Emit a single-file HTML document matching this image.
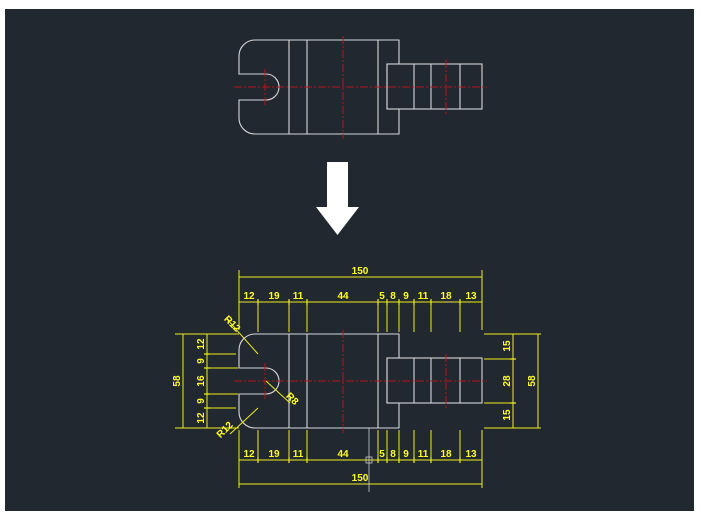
<!DOCTYPE html>
<html><head><style>
html,body{margin:0;padding:0;background:#fff;}
svg{display:block;}
text{font-family:"Liberation Sans",sans-serif;font-size:10px;font-weight:bold;fill:#ffff20;}
</style></head><body>
<svg width="712" height="522" viewBox="0 0 712 522" xmlns="http://www.w3.org/2000/svg">
<rect x="0" y="0" width="712" height="522" fill="#fff"/>
<rect x="5" y="9" width="689" height="502" fill="#212830"/>
<defs>
<g id="part">
<g fill="none" stroke="#d8d8d8" stroke-width="1.1">
<path d="M399,0 H255 A16,16 0 0 0 239,16 V34 H266 A13,13 0 0 1 266,60 H239 V78 A16,16 0 0 0 255,94 H399 V69 H387 V24 H399 Z"/>
<line x1="289" y1="0" x2="289" y2="94"/>
<line x1="307" y1="0" x2="307" y2="94"/>
<line x1="378" y1="0" x2="378" y2="94"/>
<rect x="387" y="24" width="95" height="45"/>
<line x1="414" y1="24" x2="414" y2="69"/>
<line x1="431" y1="24" x2="431" y2="69"/>
<line x1="460" y1="24" x2="460" y2="69"/>
</g>
<g stroke="#b8141e" stroke-width="1" stroke-dasharray="8,2,2,2" fill="none">
<line x1="234" y1="47" x2="487" y2="47"/>
<line x1="343" y1="-4" x2="343" y2="99"/>
<line x1="446" y1="20" x2="446" y2="75"/>
<line x1="265" y1="29" x2="265" y2="65"/>
</g>
</g>
</defs>
<use href="#part" transform="translate(0,40)"/>
<use href="#part" transform="translate(0,334)"/>
<polygon points="327,162 348,162 348,207 359,207 337.5,235 316,207 327,207" fill="#fff"/>
<g stroke="#eeee1a" stroke-width="1" fill="none">
<line x1="239" y1="277" x2="482" y2="277"/>
<line x1="239" y1="302" x2="482" y2="302"/>
<line x1="239" y1="270" x2="239" y2="330"/>
<line x1="482" y1="270" x2="482" y2="330"/>
<path d="M258,300V332 M289,300V332 M307,300V332 M378,300V332 M387,300V332 M399,300V332 M414,300V332 M431,300V332 M460,300V332"/>
<line x1="239" y1="460" x2="482" y2="460"/>
<line x1="239" y1="484" x2="482" y2="484"/>
<line x1="239" y1="430" x2="239" y2="488"/>
<line x1="482" y1="430" x2="482" y2="488"/>
<path d="M258,430V462 M289,430V462 M307,430V462 M378,430V462 M387,430V462 M399,430V462 M414,430V462 M431,430V462 M460,430V462"/>
<line x1="183" y1="334" x2="183" y2="428"/>
<line x1="207" y1="334" x2="207" y2="428"/>
<path d="M175,334H239 M175,428H239 M205,354H236 M205,408H236 M205,368H238 M205,394H238"/>
<line x1="513" y1="334" x2="513" y2="428"/>
<line x1="538" y1="334" x2="538" y2="428"/>
<path d="M484,334H541 M484,428H541 M484,359H516 M484,403H516"/>
<line x1="226" y1="318" x2="258" y2="354"/>
<line x1="258" y1="408" x2="230" y2="434"/>
<line x1="266" y1="381" x2="290" y2="403"/>
</g>
<g stroke="#eeee1a" stroke-width="1.2" fill="none">
<path d="M258,299v6 M289,299v6 M307,299v6 M378,299v6 M387,299v6 M399,299v6 M414,299v6 M431,299v6 M460,299v6"/>
<path d="M258,457v6 M289,457v6 M307,457v6 M378,457v6 M387,457v6 M399,457v6 M414,457v6 M431,457v6 M460,457v6"/>
<path d="M204,354h6 M204,368h6 M204,394h6 M204,408h6 M510,359h6 M510,403h6"/>
</g>
<line x1="369" y1="428" x2="369" y2="492" stroke="#ccc" stroke-width="0.8"/>
<rect x="366" y="457" width="6" height="6" fill="none" stroke="#ccc" stroke-width="0.8"/>
<g text-anchor="middle">
<text x="360" y="274">150</text>
<text x="360" y="481">150</text>
<text x="249" y="299">12</text><text x="274" y="299">19</text><text x="298" y="299">11</text><text x="343" y="299">44</text><text x="382" y="299">5</text><text x="393" y="299">8</text><text x="406" y="299">9</text><text x="423" y="299">11</text><text x="446" y="299">18</text><text x="471" y="299">13</text>
<text x="249" y="457">12</text><text x="274" y="457">19</text><text x="298" y="457">11</text><text x="343" y="457">44</text><text x="382" y="457">5</text><text x="393" y="457">8</text><text x="406" y="457">9</text><text x="423" y="457">11</text><text x="446" y="457">18</text><text x="471" y="457">13</text>
<text transform="translate(180,381) rotate(-90)">58</text>
<text transform="translate(204,344) rotate(-90)">12</text>
<text transform="translate(204,361) rotate(-90)">9</text>
<text transform="translate(204,381) rotate(-90)">16</text>
<text transform="translate(204,401) rotate(-90)">9</text>
<text transform="translate(204,418) rotate(-90)">12</text>
<text transform="translate(510,346) rotate(-90)">15</text>
<text transform="translate(510,381) rotate(-90)">28</text>
<text transform="translate(510,415) rotate(-90)">15</text>
<text transform="translate(535,381) rotate(-90)">58</text>
<text transform="translate(230,326) rotate(45)">R12</text>
<text transform="translate(227,432) rotate(-45)">R12</text>
<text transform="translate(290,401) rotate(45)">R8</text>
</g>
</svg>
</body></html>
